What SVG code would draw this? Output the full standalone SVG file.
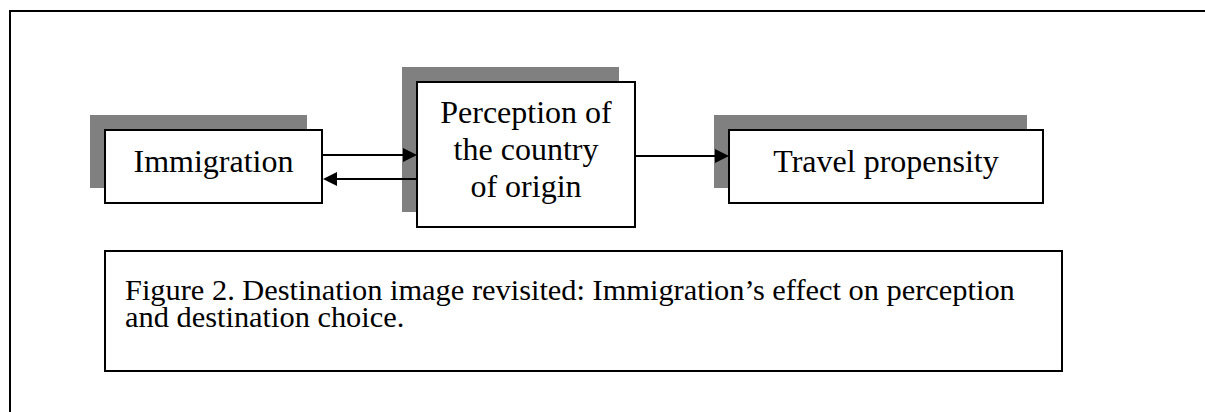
<svg xmlns="http://www.w3.org/2000/svg" width="1205" height="412" viewBox="0 0 1205 412">
<style>
.shadow{fill:#808080;stroke:none}
.box{fill:#ffffff;stroke:#000000;stroke-width:2}
.lbl{font-family:"Liberation Serif","Times New Roman",serif;font-size:32px;fill:#000000;text-anchor:middle}
.cap{font-family:"Liberation Serif","Times New Roman",serif;font-size:30.4px;fill:#000000}
.conn{stroke:#000000;stroke-width:2;fill:none}
</style>
<defs>
<marker id="arr" markerUnits="userSpaceOnUse" markerWidth="14" markerHeight="14" refX="2" refY="7" orient="auto">
<path d="M0,0 L14,7 L0,14 z" fill="#000000"/>
</marker>
</defs>
<rect width="1205" height="412" fill="#ffffff"/>
<path d="M10,412 L10,11 L1205,11" fill="none" stroke="#000000" stroke-width="2"/>
<g id="node-immigration">
<rect class="shadow" x="90" y="115" width="217" height="73"/>
<rect class="box" x="105" y="130" width="217" height="73"/>
<text class="lbl" x="213.5" y="172">Immigration</text>
</g>
<g id="node-perception">
<rect class="shadow" x="402" y="67" width="217" height="145"/>
<rect class="box" x="417" y="82" width="218" height="145"/>
<text class="lbl" x="526" y="123">Perception of</text>
<text class="lbl" x="526" y="160">the country</text>
<text class="lbl" x="526" y="197">of origin</text>
</g>
<g id="node-travel">
<rect class="shadow" x="714" y="115" width="313" height="73"/>
<rect class="box" x="729" y="130" width="314" height="73"/>
<text class="lbl" x="886" y="172">Travel propensity</text>
</g>
<g id="node-caption">
<rect class="box" x="105" y="251" width="957" height="120"/>
<text class="cap" x="125" y="300"><tspan x="125" y="300">Figure 2. Destination image revisited: Immigration’s effect on perception</tspan><tspan x="125" y="327">and destination choice.</tspan></text>
</g>
<g id="connectors">
<line class="conn" x1="322" y1="155" x2="405" y2="155" marker-end="url(#arr)"/>
<line class="conn" x1="417" y1="179" x2="335" y2="179" marker-end="url(#arr)"/>
<line class="conn" x1="635" y1="156" x2="717" y2="156" marker-end="url(#arr)"/>
</g>
</svg>
